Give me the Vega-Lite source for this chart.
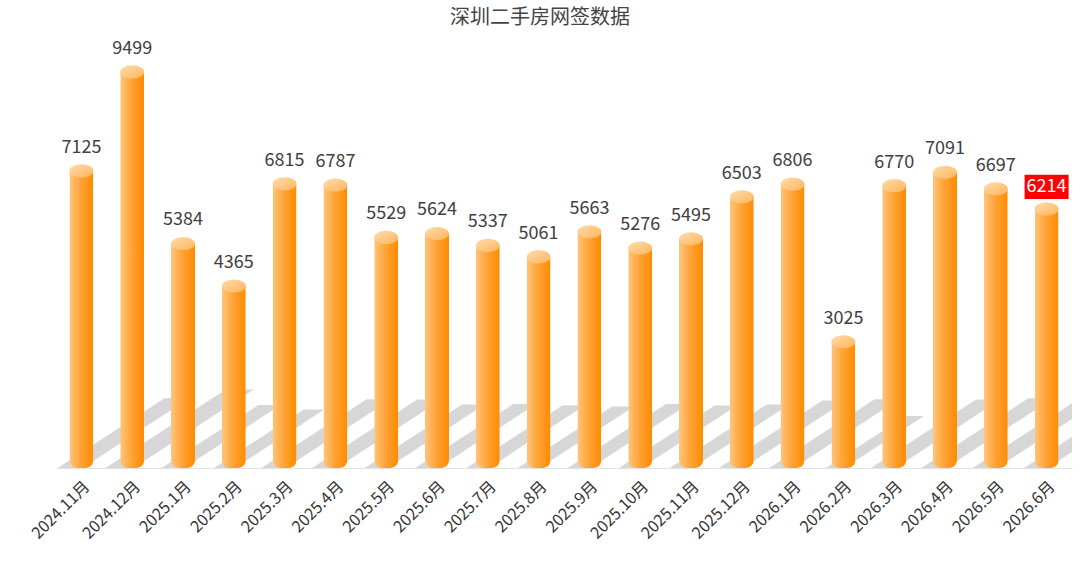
{
  "$schema": "https://vega.github.io/schema/vega-lite/v6.json",
  "autosize": {"type": "none"},
  "padding": {"left": 56, "top": 51, "right": 8, "bottom": 100},
  "width": 1016,
  "height": 417,
  "background": "white",
  "config": {"view": {"stroke": null}, "font": "Noto Sans CJK SC"},
  "title": {
    "text": "深圳二手房网签数据",
    "anchor": "middle",
    "fontSize": 20,
    "fontWeight": "normal",
    "color": "#444444",
    "font": "Noto Sans CJK SC",
    "dx": -24,
    "offset": 12
  },
  "data": {
    "values": [
      {"month": "2024.11月", "value": 7125},
      {"month": "2024.12月", "value": 9499},
      {"month": "2025.1月", "value": 5384},
      {"month": "2025.2月", "value": 4365},
      {"month": "2025.3月", "value": 6815},
      {"month": "2025.4月", "value": 6787},
      {"month": "2025.5月", "value": 5529},
      {"month": "2025.6月", "value": 5624},
      {"month": "2025.7月", "value": 5337},
      {"month": "2025.8月", "value": 5061},
      {"month": "2025.9月", "value": 5663},
      {"month": "2025.10月", "value": 5276},
      {"month": "2025.11月", "value": 5495},
      {"month": "2025.12月", "value": 6503},
      {"month": "2026.1月", "value": 6806},
      {"month": "2026.2月", "value": 3025},
      {"month": "2026.3月", "value": 6770},
      {"month": "2026.4月", "value": 7091},
      {"month": "2026.5月", "value": 6697},
      {"month": "2026.6月", "value": 6214}
    ]
  },
  "encoding": {
    "x": {
      "field": "month",
      "type": "nominal",
      "sort": null,
      "title": null,
      "scale": {"paddingInner": 0.5, "paddingOuter": 0.25},
      "axis": {
        "labelAngle": -45,
        "labelFontSize": 16,
        "labelColor": "#333333",
        "labelFont": "Noto Sans CJK SC",
        "ticks": false,
        "domainColor": "#e3e3e3",
        "labelPadding": 10
      }
    }
  },
  "layer": [
    {
      "mark": {
        "type": "point",
        "filled": true,
        "clip": true,
        "shape": "M-2.1,0 L0.1,0 L9.6,-6.2 L7.4,-6.2 Z",
        "color": "#cdcdcd",
        "opacity": 0.8
      },
      "encoding": {
        "y": {"datum": 0, "type": "quantitative", "scale": {"domain": [0, 10000]}, "axis": null},
        "size": {"field": "value", "type": "quantitative", "scale": {"domain": [3000, 9500], "range": [280, 640]}, "legend": null}
      }
    },
    {
      "mark": {
        "type": "bar",
        "width": 24,
        "cornerRadiusBottomLeft": 8,
        "cornerRadiusBottomRight": 8,
        "fill": {
          "gradient": "linear",
          "x1": 0, "x2": 1, "y1": 0, "y2": 0,
          "stops": [
            {"offset": 0, "color": "#ffc57c"},
            {"offset": 0.5, "color": "#ffa133"},
            {"offset": 1, "color": "#ff8b00"}
          ]
        }
      },
      "encoding": {
        "y": {"field": "value", "type": "quantitative", "scale": {"domain": [0, 10000]}, "axis": null}
      }
    },
    {
      "mark": {
        "type": "point",
        "filled": true,
        "shape": "M-1,0 A1,0.55 0 1,1 1,0 A1,0.55 0 1,1 -1,0 Z",
        "size": 576,
        "opacity": 1,
        "fill": {
          "gradient": "linear",
          "x1": 0, "x2": 1, "y1": 0, "y2": 1,
          "stops": [
            {"offset": 0, "color": "#ffdcae"},
            {"offset": 1, "color": "#ffb55a"}
          ]
        }
      },
      "encoding": {
        "y": {"field": "value", "type": "quantitative"}
      }
    },
    {
      "transform": [{"filter": "datum.month !== '2026.6月'"}],
      "mark": {
        "type": "text",
        "baseline": "middle",
        "dy": -23,
        "fontSize": 18,
        "color": "#404040",
        "font": "Noto Sans CJK SC"
      },
      "encoding": {
        "y": {"field": "value", "type": "quantitative"},
        "text": {"field": "value", "type": "quantitative"}
      }
    },
    {
      "transform": [{"filter": "datum.month === '2026.6月'"}],
      "mark": {
        "type": "point",
        "filled": true,
        "shape": "M-1,-0.55 L1,-0.55 L1,0.55 L-1,0.55 Z",
        "size": 1936,
        "yOffset": -22,
        "color": "#ff0000",
        "opacity": 1
      },
      "encoding": {
        "y": {"field": "value", "type": "quantitative"}
      }
    },
    {
      "transform": [{"filter": "datum.month === '2026.6月'"}],
      "mark": {
        "type": "text",
        "baseline": "middle",
        "dy": -22,
        "fontSize": 18,
        "color": "#ffffff",
        "font": "Noto Sans CJK SC"
      },
      "encoding": {
        "y": {"field": "value", "type": "quantitative"},
        "text": {"field": "value", "type": "quantitative"}
      }
    }
  ]
}
